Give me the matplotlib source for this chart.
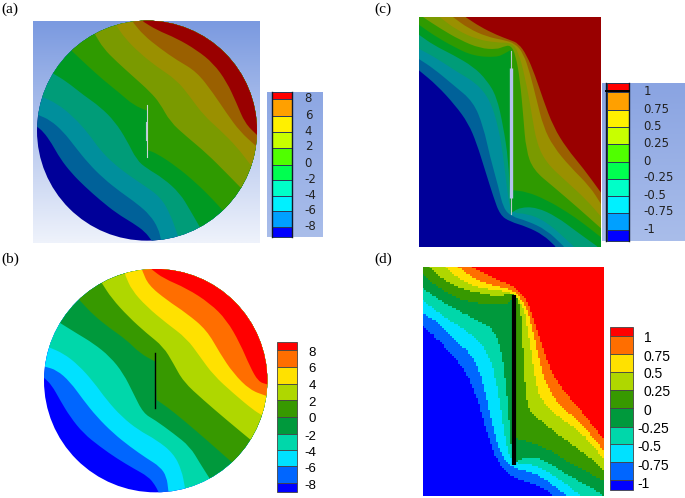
import numpy as np
import matplotlib
matplotlib.use('Agg')
import matplotlib.pyplot as plt
from matplotlib import cbook
from matplotlib.path import Path
from matplotlib.patches import Circle, PathPatch, Rectangle

# contour curves, in 1/3 pixel units of each quadrant
# a repeated point keeps a sharp corner where a curve meets the crack
curves_a = [
    [(111,380),(130,395),(155,430),(180,475),(215,520),(255,560),(300,600),(350,640),(400,670),(435,695),(455,722)],
    [(115,345),(150,360),(190,395),(225,440),(265,490),(310,535),(360,575),(410,610),(450,645),(475,685),(483,720)],
    [(125,290),(170,310),(220,350),(265,400),(300,450),(340,490),(385,525),(430,555),(480,590),(510,640),(533,705)],
    [(162,222),(200,245),(250,285),(300,320),(345,365),(380,420),(410,480),(440,505),(490,535),(540,580),(570,630),(600,682)],
    [(218,155),(260,195),(310,240),(360,280),(400,315),(441,332),(441,332),(441,450),(441,450),(470,460),(530,500),(590,550),(640,600),(667,630)],
    [(285,103),(310,145),(350,185),(400,230),(450,275),(480,310),(510,365),(560,410),(620,460),(680,520),(722,563)],
    [(350,78),(375,115),(420,160),(470,200),(530,240),(570,290),(610,345),(660,390),(710,440),(752,495)],
    [(400,68),(430,105),(480,145),(530,180),(590,215),(640,280),(680,340),(720,395),(768,438)],
    [(430,65),(470,90),(530,115),(590,150),(640,190),(680,245),(710,310),(735,370),(771,405)],
]
curves_b = [
    [(132,383),(155,405),(180,450),(210,500),(250,550),(300,590),(350,625),(400,655),(445,680),(465,705),(475,725)],
    [(135,350),(170,360),(210,395),(250,450),(290,500),(340,550),(390,590),(440,625),(480,650),(500,680),(505,722)],
    [(147,292),(190,310),(235,345),(280,395),(320,450),(365,500),(415,540),(470,570),(520,610),(545,660),(555,714)],
    [(182,220),(230,250),(280,280),(330,320),(370,370),(400,430),(430,490),(465,510),(520,550),(570,590),(600,640),(628,684)],
    [(240,152),(280,195),(330,235),(380,270),(420,310),(466,335),(466,335),(470,450),(470,450),(500,470),(550,510),(620,570),(665,610),(695,636)],
    [(306,100),(335,145),(385,200),(440,250),(490,290),(520,340),(550,395),(610,450),(680,510),(750,568)],
    [(377,78),(395,120),(440,170),(500,220),(560,265),(600,320),(640,375),(700,430),(760,480),(785,495)],
    [(427,62),(445,105),(500,150),(560,190),(620,240),(660,310),(700,370),(750,420),(797,437)],
    [(455,58),(490,85),(560,115),(630,160),(680,210),(720,280),(750,350),(775,395),(801,403)],
]
curves_c = [
    [(238,212),(290,255),(345,315),(385,370),(410,430),(435,510),(460,590),(480,645),(510,665),(560,680),(610,705),(645,738)],
    [(238,178),(280,205),(340,255),(400,305),(430,380),(450,470),(475,560),(490,625),(515,650),(560,662),(620,690),(670,738)],
    [(238,147),(290,175),(350,215),(410,250),(450,300),(475,380),(490,470),(500,560),(512,640),(560,640),(620,665),(700,738)],
    [(238,105),(280,135),(340,165),(400,200),(440,240),(470,290),(490,380),(505,480),(510,590),(512,640),(512,640),(540,622),(590,622),(650,650),(710,695),(770,738)],
    [(238,75),(280,105),(340,140),(400,168),(470,172),(495,160),(512,150),(512,150),(513,570),(513,570),(560,575),(620,600),(680,635),(730,670),(783,712)],
    [(250,52),(300,85),(360,120),(420,145),(470,148),(490,140),(512,135),(527,165),(540,240),(550,350),(558,450),(580,510),(640,560),(710,620),(783,685)],
    [(300,52),(350,90),(410,118),(470,128),(515,128),(535,155),(555,230),(575,340),(590,430),(620,490),(680,545),(740,600),(783,650)],
    [(340,52),(385,85),(440,110),(490,120),(525,130),(550,160),(570,220),(590,300),(610,380),(640,440),(690,500),(750,560),(783,612)],
    [(378,52),(420,80),(470,105),(510,120),(535,130),(560,165),(585,225),(610,300),(640,380),(680,445),(730,505),(783,578)],
]
curves_d = [
    [(248,228),(300,275),(350,330),(385,380),(410,440),(430,510),(450,580),(475,640),(510,680),(560,695),(610,715),(640,738)],
    [(248,190),(290,215),(340,265),(395,315),(425,380),(445,470),(465,560),(490,630),(520,655),(570,665),(620,690),(680,738)],
    [(248,150),(290,185),(350,225),(410,265),(450,320),(470,400),(485,490),(495,570),(515,640),(570,640),(630,670),(690,710),(720,738)],
    [(248,115),(290,145),(350,180),(410,210),(465,240),(490,330),(505,480),(515,610),(520,640),(520,640),(570,615),(630,640),(690,680),(750,710),(790,738)],
    [(248,75),(290,110),(350,145),(410,160),(465,165),(505,165),(520,135),(520,135),(525,565),(525,565),(570,575),(630,600),(690,640),(740,665),(792,695)],
    [(270,52),(310,90),(370,120),(430,130),(470,140),(510,130),(530,135),(545,200),(550,320),(560,480),(600,510),(660,560),(720,600),(792,660)],
    [(320,52),(360,90),(420,115),(470,120),(520,130),(550,165),(565,250),(580,350),(595,440),(640,490),(700,530),(750,575),(792,630)],
    [(355,52),(400,85),(450,105),(500,115),(530,130),(560,170),(580,250),(600,340),(620,410),(660,470),(720,515),(792,605)],
    [(398,52),(440,75),(490,97),(530,115),(560,150),(585,220),(610,300),(640,380),(680,435),(730,490),(792,570)],
]

dark_colors = ['#000099','#006199','#008f9c','#009c78','#009a22','#2f9a00','#7a9a00','#9a9000','#9a6000','#990000']
bright_b = ['#0000ff','#0066ff','#00e1ff','#00d7aa','#00993c','#379900','#afd700','#ffe100','#ff6e00','#ff0000']
bar_colors = ['#0000ff','#00a0ff','#00f0ff','#00ffc8','#00ff50','#50ff00','#c8ff00','#fff000','#ffa000','#ff0000']

ticks_ab = ['8','6','4','2','0','-2','-4','-6','-8']
ticks_cd = ['1','0.75','0.5','0.25','0','-0.25','-0.5','-0.75','-1']

# colour bar steps (top to bottom) and tick rows
bar_a = [277,298,349,395,444,494,539,589,634,682,710]
bar_b = [275,301,351,401,451,500,551,600,649,698,725]
bar_c = [250,276,330,380,432,486,536,588,638,690,722]
bar_d = [231,258,313,367,421,475,531,583,637,691,720]
rows_a = [297,346,393,440,490,537,585,632,680]
rows_b = [308,358,408,458,508,560,609,658,708]
rows_c = [275,328,378,430,483,533,585,635,687]
rows_d = [265,320,373,427,483,537,592,647,703]

FIG_W, FIG_H = 685, 498


def quadrant(x0, y0, w, h):
    ax = fig.add_axes([x0 / FIG_W, 1 - (y0 + h) / FIG_H, w / FIG_W, h / FIG_H])
    ax.set_xlim(0, w * 3)
    ax.set_ylim(h * 3, 0)
    ax.axis('off')
    return ax


def smooth_path(pts):
    # quadratic spline through the midpoints of the read points
    verts = [pts[0], (pts[0] + pts[1]) / 2]
    codes = [Path.MOVETO, Path.LINETO]
    for i in range(1, len(pts) - 1):
        verts += [pts[i], (pts[i] + pts[i + 1]) / 2]
        codes += [Path.CURVE3, Path.CURVE3]
    verts.append(pts[-1])
    codes.append(Path.LINETO)
    return Path(np.array(verts), codes)


def stair(path, cell):
    # coarse mesh look of panel (d): walk along the curve and snap it to the cells
    xy = path.to_polygons(closed_only=False)[0]
    dist = np.r_[0, np.cumsum(np.hypot(*np.diff(xy, axis=0).T))]
    s = np.arange(0, dist[-1], cell / 3)
    x = np.round(np.interp(s, dist, xy[:, 0]) / cell) * cell
    y = np.round(np.interp(s, dist, xy[:, 1]) / cell) * cell
    return cbook.pts_to_poststep(x, y).T


def draw_bands(ax, clip, curves, colors, cx, cy, cell=None):
    clip.set_facecolor(colors[0])
    clip.set_edgecolor('none')
    ax.add_patch(clip)
    far = 3000
    c = np.array([cx, cy])
    for curve, col in zip(curves, colors[1:]):
        pts = np.array(curve, dtype=float)
        start = c + 1.5 * (pts[0] - c)
        end = c + 1.5 * (pts[-1] - c)
        path = smooth_path(pts)
        if cell is not None:
            line = stair(path, cell)
            v = np.vstack([line, end, (far, far), (far, -far), (-far, -far), start, line[0]])
            c_ = [Path.MOVETO] + [Path.LINETO] * (len(v) - 1)
        else:
            v = np.vstack([path.vertices, end, (far, far), (far, -far), (-far, -far), start, pts[0]])
            c_ = list(path.codes) + [Path.LINETO] * 6
        patch = PathPatch(Path(v, c_), facecolor=col, edgecolor='none', lw=0, zorder=2)
        ax.add_patch(patch)
        patch.set_clip_path(clip)


def gradient(ax, x0, x1, y0, y1, top, bottom):
    t = np.linspace(0, 1, 64)[:, None, None]
    rgb = (1 - t) * np.array(matplotlib.colors.to_rgb(top)) + t * np.array(matplotlib.colors.to_rgb(bottom))
    xlim, ylim = ax.get_xlim(), ax.get_ylim()
    ax.imshow(rgb, extent=(x0, x1, y1, y0), aspect='auto', interpolation='bilinear', zorder=0)
    ax.set_xlim(xlim)
    ax.set_ylim(ylim)


def draw_bar(ax, x0, x1, edges, colors, line='#333333', lw=0.6):
    # edges run from the top (highest colour) downwards
    for i, col in enumerate(colors[::-1]):
        ax.bar((x0 + x1) / 2, edges[i + 1] - edges[i], bottom=edges[i], width=x1 - x0,
               color=col, edgecolor=line, linewidth=lw, zorder=3)


fig = plt.figure(figsize=(FIG_W / 100, FIG_H / 100), dpi=100)

# (a)
ax = quadrant(0, 0, 340, 250)
gradient(ax, 99, 780, 62, 728, '#7b9ae0', '#eef2fb')
gradient(ax, 802, 970, 277, 710, '#8da7e3', '#a9bdea')
draw_bands(ax, Circle((441, 392), 330, zorder=1), curves_a, dark_colors, 441, 392)
ax.plot([441, 441], [315, 470], color='#c8d4d8', lw=0.8, zorder=4)
ax.plot([439, 439], [365, 420], color='#b8c8d8', lw=0.8, zorder=4)
draw_bar(ax, 815, 877, bar_a, bar_colors, line='#2a3a5a', lw=0.7)
ax.plot([815, 815], [277, 710], color='#101828', lw=1.0, zorder=5)
ax.plot([877, 877], [277, 710], color='#101828', lw=1.0, zorder=5)
for t, y in zip(ticks_ab, rows_a):
    ax.text(914, y, t, fontsize=8.5, ha='left', va='center', color='#222222', family='DejaVu Sans', zorder=6)
ax.text(3, 29, '(a)', fontsize=11, family='Liberation Serif', ha='left', va='center')

# (c)
ax = quadrant(340, 0, 345, 250)
gradient(ax, 785, 1032, 250, 722, '#8aa4e2', '#a9bdea')
draw_bands(ax, Rectangle((238, 52), 545, 688, zorder=1), curves_c, dark_colors, 510, 396)
ax.plot([512, 512], [152, 642], color='#b8c8c8', lw=0.8, zorder=4)
ax.plot([513, 513], [203, 595], color='#b4c2ea', lw=2.4, solid_capstyle='butt', zorder=4)
draw_bar(ax, 800, 866, bar_c, bar_colors, line='#2a3a5a', lw=0.7)
ax.plot([797, 797], [250, 722], color='#101828', lw=1.0, zorder=5)
ax.plot([867, 867], [250, 722], color='#101828', lw=1.0, zorder=5)
ax.plot([797, 867], [274, 274], color='#000000', lw=1.4, zorder=5)
for t, y in zip(ticks_cd, rows_c):
    ax.text(910, y, t, fontsize=8.5, ha='left', va='center', color='#222222', family='DejaVu Sans', zorder=6)
ax.text(102, 28, '(c)', fontsize=11, family='Liberation Serif', ha='left', va='center')

# (b)
ax = quadrant(0, 250, 340, 248)
draw_bands(ax, Circle((467, 392), 335, zorder=1), curves_b, bright_b, 467, 392)
ax.plot([466, 466], [310, 474], color='black', lw=1.0, zorder=4)
draw_bar(ax, 830, 892, bar_b, bright_b, line='#444444')
for t, y in zip(ticks_ab, rows_b):
    ax.text(948, y, t, fontsize=9.5, ha='right', va='center', family='Liberation Sans', zorder=6)
ax.text(3, 28, '(b)', fontsize=11, family='Liberation Serif', ha='left', va='center')

# (d)
ax = quadrant(340, 250, 345, 248)
draw_bands(ax, Rectangle((248, 52), 544, 686, zorder=1), curves_d, bright_b, 520, 395, cell=6)
ax.plot([521, 521], [135, 645], color='black', lw=3.0, solid_capstyle='butt', zorder=4)
draw_bar(ax, 809, 878, bar_d, bright_b, line='#444444')
for t, y in zip(ticks_cd, rows_d):
    ax.text(911 if not t.startswith('-') else 893, y, t, fontsize=10, ha='left', va='center',
            family='Liberation Sans', zorder=6)
ax.text(102, 28, '(d)', fontsize=11, family='Liberation Serif', ha='left', va='center')

fig.savefig('out.png', dpi=100)
